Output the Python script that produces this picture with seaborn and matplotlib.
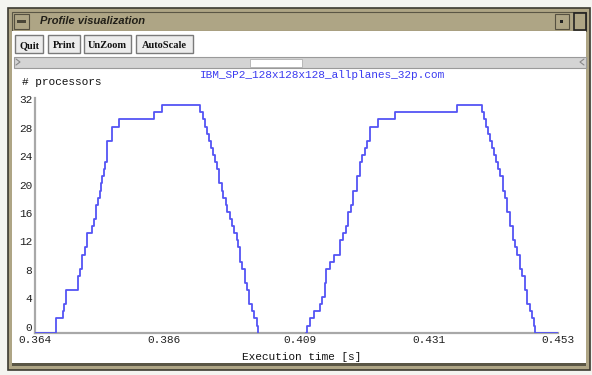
import pandas as pd
import matplotlib.pyplot as plt
from matplotlib.patches import Rectangle
import seaborn as sns

sns.set_style("white")
plt.rcParams['font.family'] = ['Liberation Mono', 'DejaVu Sans Mono']

# first burst of the profile (time [s], number of busy processors)
t_first = [0.3640, 0.3676, 0.3687, 0.3690, 0.3693, 0.3713, 0.3717, 0.3720, 0.3725,
           0.3729, 0.3737, 0.3741, 0.3744, 0.3748, 0.3751, 0.3753, 0.3754, 0.3758,
           0.3759, 0.3763, 0.3771, 0.3783, 0.3842, 0.3856, 0.3921, 0.3926, 0.3929,
           0.3933, 0.3936, 0.3940, 0.3943, 0.3946, 0.3950, 0.3953, 0.3958, 0.3960,
           0.3965, 0.3967, 0.3972, 0.3975, 0.3979, 0.3984, 0.3985, 0.3989, 0.3992,
           0.3997, 0.4001, 0.4004, 0.4009, 0.4013, 0.4018, 0.4019]
n_first = [0, 2, 3, 4, 6, 8, 9, 11, 12,
           14, 15, 16, 18, 19, 20, 21, 22, 23,
           24, 27, 29, 30, 31, 32, 31, 30, 29,
           28, 27, 26, 25, 24, 23, 21, 20, 19,
           18, 17, 16, 15, 14, 13, 12, 10, 9,
           7, 6, 4, 3, 2, 1, 0]

# second burst
t_second = [0.4102, 0.4103, 0.4108, 0.4115, 0.4125, 0.4128, 0.4133, 0.4135, 0.4142,
            0.4149, 0.4159, 0.4164, 0.4169, 0.4173, 0.4178, 0.4181, 0.4188, 0.4193,
            0.4196, 0.4202, 0.4205, 0.4210, 0.4224, 0.4253, 0.4358, 0.4401, 0.4404,
            0.4407, 0.4411, 0.4414, 0.4418, 0.4421, 0.4424, 0.4428, 0.4431, 0.4436,
            0.4440, 0.4443, 0.4448, 0.4453, 0.4457, 0.4460, 0.4465, 0.4469, 0.4474,
            0.4477, 0.4482, 0.4486, 0.4489, 0.4491, 0.4530]
n_second = [0, 1, 2, 3, 4, 5, 7, 9, 10,
            11, 13, 14, 15, 17, 18, 20, 22, 24,
            25, 26, 27, 29, 30, 31, 32, 31, 30,
            29, 28, 27, 26, 25, 24, 23, 22, 20,
            19, 17, 15, 13, 12, 11, 9, 8, 6,
            4, 3, 2, 1, 0, 0]

x_ticks = [0.364, 0.386, 0.409, 0.431, 0.453]
y_ticks = [0, 4, 8, 12, 16, 20, 24, 28, 32]
trace_name = "IBM_SP2_128x128x128_allplanes_32p.com"
buttons = ["Quit", "Print", "UnZoom", "AutoScale"]

W, H = 592, 375
fig = plt.figure(figsize=(W / 100, H / 100), dpi=100)

# window chrome drawn in pixel coordinates
bg = fig.add_axes([0, 0, 1, 1])
bg.set_xlim(0, W)
bg.set_ylim(H, 0)
bg.axis('off')

def box(x, y, w, h, fc, ec='none', lw=0):
    bg.add_patch(Rectangle((x, y), w, h, facecolor=fc, edgecolor=ec, linewidth=lw))

tan = '#aea585'
box(0, 0, W, H, '#f4f4f0')
box(8, 8, 582, 362, tan, '#3c3a30', 1.2)
box(12, 12, 574, 19, tan, '#5a5645', 0.8)
bg.text(40, 21.5, "Profile visualization", fontsize=8, fontweight='bold',
        style='italic', family='Liberation Sans', color='#222018', va='center')
box(14, 14, 15, 15, tan, '#555040', 0.8)
box(17, 20, 9, 3, '#4a4638')
box(555, 14, 14, 15, tan, '#555040', 0.8)
box(560, 20, 3, 3, '#222222')
box(574, 13, 12, 17, tan, '#222222', 1.2)

# button row
box(12, 31, 574, 334, 'white')
bx = [15, 48, 84, 136]
bw = [28, 32, 47, 57]
for label, x0, w0 in zip(buttons, bx, bw):
    box(x0, 35, w0, 18, '#ececec', '#7a7a7a', 1.0)
    bg.text(x0 + w0 / 2, 48, label, fontsize=7.5, fontweight='bold',
            family='Liberation Serif', ha='center', va='baseline', color='#111111')

# scrollbar
box(14, 57, 572, 11, '#d4d4d4', '#9a9a9a', 0.8)
box(250, 58.5, 52, 8, 'white', '#b0b0b0', 0.6)
bg.plot([16, 20, 16], [59, 62, 65], color='#888888', lw=0.8)
bg.plot([584, 580, 584], [59, 62, 65], color='#888888', lw=0.8)
box(12, 363, 574, 3, '#5a5645')

# the profile plot itself
ax = fig.add_axes([35 / W, (H - 332.7) / H, 523 / W, 234.6 / H])
ax.set_facecolor('none')
line_color = '#5454f4'
sns.lineplot(x=t_first, y=n_first, ax=ax, drawstyle='steps-post', sort=False,
             estimator=None, color=line_color, linewidth=1.3)
sns.lineplot(x=t_second, y=n_second, ax=ax, drawstyle='steps-post', sort=False,
             estimator=None, color=line_color, linewidth=1.3)

ax.set_xlim(0.364, 0.453)
ax.set_ylim(0, 33)
ax.set_xticks(x_ticks)
ax.set_xticklabels([f"{v:.3f}" for v in x_ticks])
ax.set_yticks(y_ticks)
ax.set_yticklabels([str(v) for v in y_ticks])
for side in ['top', 'right']:
    ax.spines[side].set_visible(False)
for side in ['left', 'bottom']:
    ax.spines[side].set_color('#a8a8a8')
    ax.spines[side].set_linewidth(1.6)
    ax.spines[side].set_zorder(0)
ax.tick_params(axis='both', direction='in', length=4, width=1, color='#666666',
               labelsize=8, labelcolor='#222222', pad=2)
for lbl in ax.get_yticklabels():
    lbl.set_va('bottom')

ax.set_ylabel("# processors", fontsize=8, rotation=0, ha='left', va='center', color='#111111')
ax.yaxis.set_label_coords(-0.025, 1.069)
ax.set_xlabel("Execution time [s]", fontsize=8, va='center', color='#111111')
ax.xaxis.set_label_coords(0.51, -0.102)
ax.set_title(trace_name, x=0.549, y=1.064, va='center', fontsize=8, color='#3c3cf0')

fig.savefig('out.png', dpi=100)
